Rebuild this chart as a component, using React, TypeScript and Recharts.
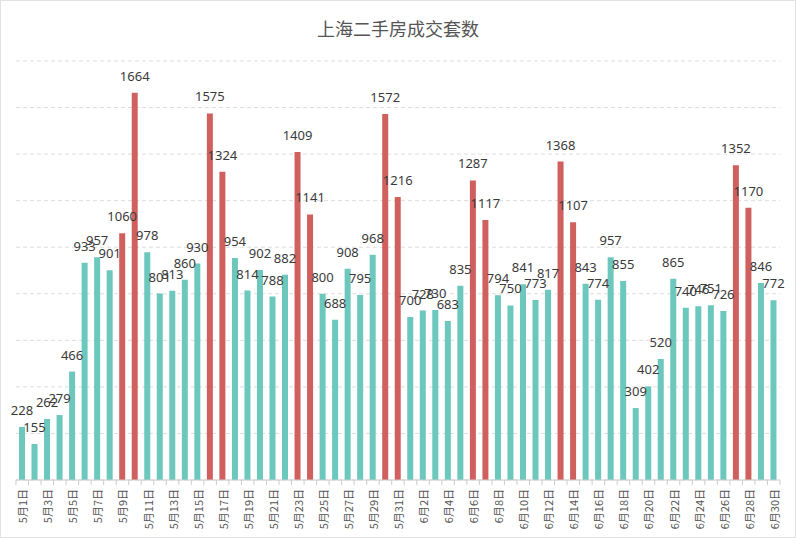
import { BarChart, Bar, XAxis, YAxis, CartesianGrid, Cell, LabelList } from 'recharts';

// daily second-hand home sales in Shanghai, May 1 - June 30
const dates = [
  '5月1日', '5月2日', '5月3日', '5月4日', '5月5日', '5月6日', '5月7日', '5月8日', '5月9日', '5月10日',
  '5月11日', '5月12日', '5月13日', '5月14日', '5月15日', '5月16日', '5月17日', '5月18日', '5月19日', '5月20日',
  '5月21日', '5月22日', '5月23日', '5月24日', '5月25日', '5月26日', '5月27日', '5月28日', '5月29日', '5月30日',
  '5月31日', '6月1日', '6月2日', '6月3日', '6月4日', '6月5日', '6月6日', '6月7日', '6月8日', '6月9日',
  '6月10日', '6月11日', '6月12日', '6月13日', '6月14日', '6月15日', '6月16日', '6月17日', '6月18日', '6月19日',
  '6月20日', '6月21日', '6月22日', '6月23日', '6月24日', '6月25日', '6月26日', '6月27日', '6月28日', '6月29日',
  '6月30日',
];

const sales = [
  228, 155, 262, 279, 466, 933, 957, 901, 1060, 1664,
  978, 801, 813, 860, 930, 1575, 1324, 954, 814, 902,
  788, 882, 1409, 1141, 800, 688, 908, 795, 968, 1572,
  1216, 700, 728, 730, 683, 835, 1287, 1117, 794, 750,
  841, 773, 817, 1368, 1107, 843, 774, 957, 855, 309,
  402, 520, 865, 740, 746, 751, 726, 1352, 1170, 846,
  772,
];

// days drawn in red
const redDays = [
  '5月9日', '5月10日', '5月16日', '5月17日', '5月23日', '5月24日', '5月30日', '5月31日',
  '6月6日', '6月7日', '6月13日', '6月14日', '6月27日', '6月28日',
];

const yTicks = [0, 200, 400, 600, 800, 1000, 1200, 1400, 1600, 1800];

const data = dates.map((d, i) => ({ date: d, value: sales[i] }));

const WIDTH = 796;
const HEIGHT = 538;
const MARGIN = { top: 60, right: 15, left: 15, bottom: 5 };
const HALF_BAND = (WIDTH - MARGIN.left - MARGIN.right) / dates.length / 2;

function DateTick(props: any) {
  const { x, y, payload, index } = props;
  return (
    <g>
      <line x1={x - HALF_BAND} x2={x - HALF_BAND} y1={y - 6} y2={y - 1} stroke="#ccc" />
      {index === dates.length - 1 && (
        <line x1={x + HALF_BAND} x2={x + HALF_BAND} y1={y - 6} y2={y - 1} stroke="#ccc" />
      )}
      {index % 2 === 0 && (
        <text
          transform={`translate(${x},${y + 3}) rotate(-90)`}
          textAnchor="end"
          dominantBaseline="central"
          fontSize={11}
          fill="#555"
          fontFamily="'Noto Sans CJK SC', sans-serif"
        >
          {payload.value}
        </text>
      )}
    </g>
  );
}

export default function App() {
  return (
    <div
      style={{
        position: 'absolute',
        left: 0,
        top: 0,
        width: WIDTH,
        height: HEIGHT,
        background: '#fff',
        boxSizing: 'border-box',
        border: '1px solid #e2e2e2',
      }}
    >
      <div
        style={{
          position: 'absolute',
          top: 14,
          width: '100%',
          textAlign: 'center',
          fontSize: 18,
          color: '#555',
          fontFamily: "'Noto Sans CJK SC', sans-serif",
        }}
      >
        上海二手房成交套数
      </div>
      <BarChart
        width={WIDTH - 2}
        height={HEIGHT - 2}
        data={data}
        margin={MARGIN}
        barSize={6}
        style={{ fontFamily: "'Noto Sans', sans-serif" }}
      >
        <CartesianGrid vertical={false} stroke="#ddd" strokeDasharray="4 3" />
        <XAxis
          dataKey="date"
          interval={0}
          height={52}
          tickLine={false}
          tickSize={6}
          tickMargin={0}
          stroke="#ccc"
          tick={<DateTick />}
        />
        <YAxis hide domain={[0, 1800]} ticks={yTicks} />
        <Bar dataKey="value" isAnimationActive={false}>
          {data.map((d) => (
            <Cell key={d.date} fill={redDays.includes(d.date) ? '#d0605e' : '#6cc7bd'} />
          ))}
          <LabelList dataKey="value" position="top" offset={12} fontSize={13} fill="#3a3a3a" />
        </Bar>
      </BarChart>
    </div>
  );
}
